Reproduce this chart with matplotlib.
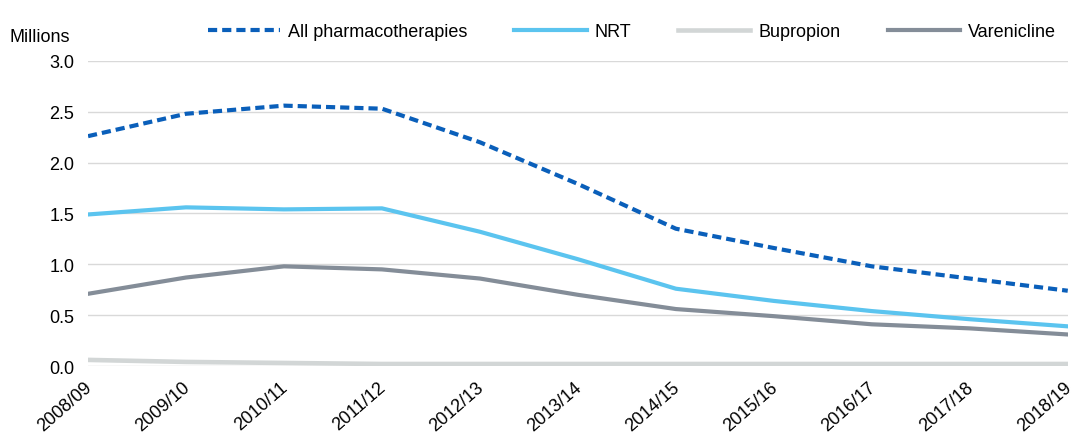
import matplotlib.pyplot as plt
import matplotlib.transforms as mtransforms
import numpy as np

plt.rcParams['font.family'] = ['Liberation Sans', 'DejaVu Sans']

years = ['2008/09', '2009/10', '2010/11', '2011/12', '2012/13', '2013/14',
         '2014/15', '2015/16', '2016/17', '2017/18', '2018/19']
all_pharma = [2.26, 2.48, 2.56, 2.53, 2.20, 1.79, 1.35, 1.16, 0.98, 0.86, 0.74]
nrt = [1.49, 1.56, 1.54, 1.55, 1.32, 1.05, 0.76, 0.64, 0.54, 0.46, 0.39]
bupropion = [0.06, 0.04, 0.03, 0.02, 0.02, 0.02, 0.02, 0.02, 0.02, 0.02, 0.02]
varenicline = [0.71, 0.87, 0.98, 0.95, 0.86, 0.70, 0.56, 0.49, 0.41, 0.37, 0.31]

fig = plt.figure(figsize=(10.91, 4.39), dpi=100)
ax = fig.add_axes([0.0807, 0.164, 0.898, 0.695])

x = np.arange(len(years))
ax.plot(x, all_pharma, color='#0a5fba', lw=3, ls=(0, (2.2, 1.2)), label='All pharmacotherapies')
ax.plot(x, nrt, color='#5bc4ef', lw=3, label='NRT')
ax.plot(x, bupropion, color='#d2d6d6', lw=3.3, label='Bupropion')
ax.plot(x, varenicline, color='#848d98', lw=3, label='Varenicline')

ax.set_xlim(0, len(years) - 1)
ax.set_ylim(0, 3.0)
ax.set_yticks(np.arange(0, 3.01, 0.5))
ax.set_yticklabels(['%.1f' % v for v in np.arange(0, 3.01, 0.5)], fontsize=13)
ax.set_xticks(x)
ax.set_xticklabels(years, rotation=41, ha='right', rotation_mode='anchor', fontsize=13)
ax.tick_params(length=0, pad=10)
ax.tick_params(axis='x', pad=9)
# shift the rotated labels a little to the left so they end at the tick
shift = mtransforms.ScaledTranslation(-4 / 100, 0, fig.dpi_scale_trans)
for lab in ax.get_xticklabels():
    lab.set_transform(lab.get_transform() + shift)
ax.grid(axis='y', color='#d9d9d9', lw=1)
ax.set_axisbelow(True)
for s in ax.spines.values():
    s.set_visible(False)

fig.text(0.009, 0.905, 'Millions', fontsize=13)
ax.legend(loc='center', bbox_to_anchor=(0.555, 1.095), ncol=4, frameon=False,
          fontsize=13, handlelength=4.0, columnspacing=2.6, handletextpad=0.45)

fig.savefig('out.png', dpi=100)
